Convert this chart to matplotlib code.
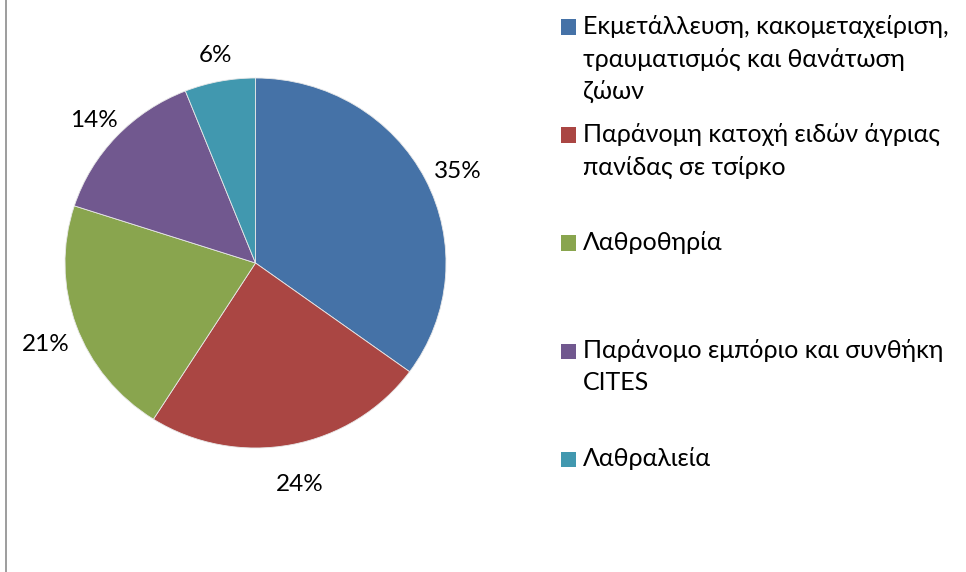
import matplotlib
matplotlib.use("Agg")
import matplotlib.pyplot as plt
from matplotlib.patches import Rectangle
from matplotlib.lines import Line2D

# data
categories = [
    "Εκμετάλλευση, κακομεταχείριση,\nτραυματισμός και θανάτωση\nζώων",
    "Παράνομη κατοχή ειδών άγριας\nπανίδας σε τσίρκο",
    "Λαθροθηρία",
    "Παράνομο εμπόριο και συνθήκη\nCITES",
    "Λαθραλιεία",
]
shares = [35, 24, 21, 14, 6]
pct_labels = ["35%", "24%", "21%", "14%", "6%"]
colors = ["#4572A7", "#AA4643", "#89A54E", "#71588F", "#4198AF"]

plt.rcParams['font.family'] = ['Lato', 'DejaVu Sans']

W, H = 966, 572
fig = plt.figure(figsize=(W / 100, H / 100), dpi=100)

# pie occupies a slightly stretched box as in the original
ax = fig.add_axes([65 / W, 1 - 448 / H, 381 / W, 370 / H])
wedges, texts = ax.pie(shares, labels=pct_labels, colors=colors,
                       startangle=90, counterclock=False,
                       labeldistance=1.18,
                       wedgeprops=dict(edgecolor='#e8e8e8', linewidth=0.6),
                       textprops=dict(fontsize=17.5, color='black'))
for t in texts:
    x, y = t.get_position()
    t.set_position((x + 0.01, y - 0.04))
    t.set_horizontalalignment('center')
    t.set_verticalalignment('center')
ax.set_aspect('auto')
ax.set_xlim(-1, 1)
ax.set_ylim(-1, 1)
ax.axis('off')

# legend: one 108px slot per entry, text top aligned
for i, (name, c) in enumerate(zip(categories, colors)):
    y0 = 27 + 108 * i
    fig.patches.append(Rectangle((561 / W, 1 - (y0 + 7.5) / H), 15 / W, 15 / H,
                                 transform=fig.transFigure, facecolor=c,
                                 edgecolor='none'))
    fig.text(583 / W, 1 - (y0 - 12) / H, name, fontsize=18, va='top',
             ha='left', linespacing=1.5)

# left frame edge
fig.add_artist(Line2D([5.5 / W, 5.5 / W], [0, 1], transform=fig.transFigure,
                      color='#8c8c8c', linewidth=1.2))

fig.savefig("out.png", dpi=100)
